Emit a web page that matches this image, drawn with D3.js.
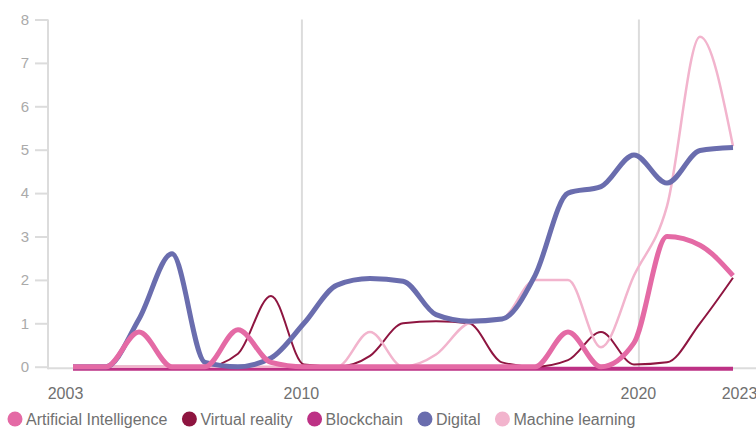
<!DOCTYPE html>
<html>
<head>
<meta charset="utf-8">
<script src="https://cdn.jsdelivr.net/npm/d3@7"></script>
<style>
  body { margin: 0; background: #fff; }
  svg { font-family: "Liberation Sans", Arial, sans-serif; }
</style>
</head>
<body>
<svg id="chart" width="756" height="429"></svg>
<script>
// Years and series values
var years = d3.range(2003, 2024);

var aiValues      = [0, 0, 0.8, 0, 0, 0.85, 0.1, 0, 0, 0, 0, 0, 0, 0, 0, 0.8, 0, 0.55, 3.0, 2.8, 2.1];
var vrValues      = [0, 0, 0, 0, 0, 0.3, 1.63, 0.05, 0, 0.25, 1.0, 1.05, 1.0, 0.1, 0, 0.15, 0.8, 0.05, 0.1, 1.0, 2.05];
var blockValues   = [0, 0, 0, 0, 0, 0, 0, 0, 0, 0, 0, 0, 0, 0, 0, 0, 0, 0, 0, 0, 0];
var digitalValues = [0, 0, 1.1, 2.6, 0.1, 0, 0.2, 1.0, 1.88, 2.03, 1.97, 1.2, 1.05, 1.1, 2.1, 4.0, 4.15, 4.88, 4.23, 4.98, 5.05];
var mlValues      = [0, 0, 0, 0, 0, 0, 0, 0, 0, 0.8, 0, 0.28, 1.0, 1.1, 2.0, 2.0, 0.45, 2.1, 3.7, 7.6, 5.08];

var seriesNames  = ["Artificial Intelligence", "Virtual reality", "Blockchain", "Digital", "Machine learning"];
var seriesColors = ["#e46aa5", "#8e1540", "#bd3185", "#6a6dae", "#f2b4cd"];

var yTicks = [0, 1, 2, 3, 4, 5, 6, 7, 8];
var xTickLabels = [2003, 2010, 2020, 2023];
var gridYears = [2010, 2020];

var svg = d3.select("#chart");

// scales
var xScale = d3.scaleLinear().domain([2003, 2023]).range([73, 733]);
var xAxisScale = d3.scaleLinear().domain([2003, 2023]).range([65, 739]);
var yScale = d3.scaleLinear().domain([0, 8]).range([366.7, 19.5]);

var axisColor = "#dcdcdc";

// vertical grid lines
svg.append("g")
  .selectAll("line")
  .data(gridYears)
  .enter().append("line")
  .attr("x1", d => xAxisScale(d) + 1)
  .attr("x2", d => xAxisScale(d) + 1)
  .attr("y1", yScale(8))
  .attr("y2", yScale(0) + 1.5)
  .attr("stroke", axisColor)
  .attr("stroke-width", 2);

// left axis
var leftAxis = d3.axisLeft(yScale)
  .tickValues(yTicks)
  .tickFormat(d3.format("d"))
  .tickSize(13)
  .tickPadding(6);

var yAxisG = svg.append("g")
  .attr("transform", "translate(48,0)")
  .call(leftAxis);

yAxisG.select(".domain")
  .attr("d", "M0," + yScale(8) + "V" + (yScale(0) + 2.5))
  .attr("stroke", axisColor)
  .attr("stroke-width", 2);
yAxisG.selectAll(".tick line")
  .attr("stroke", axisColor)
  .attr("stroke-width", 2);
yAxisG.selectAll(".tick text")
  .attr("fill", "#aaaaaa")
  .style("font-size", "15px")
  .style("font-family", "'Liberation Sans', Arial, sans-serif");

// bottom axis line
svg.append("line")
  .attr("x1", 48)
  .attr("x2", 756)
  .attr("y1", yScale(0) + 1.5)
  .attr("y2", yScale(0) + 1.5)
  .attr("stroke", axisColor)
  .attr("stroke-width", 2);

// bottom labels
var bottomAxis = d3.axisBottom(xAxisScale)
  .tickValues(xTickLabels)
  .tickFormat(d3.format("d"))
  .tickSize(0)
  .tickPadding(0);

var xAxisG = svg.append("g")
  .attr("transform", "translate(0," + (yScale(0) + 21) + ")")
  .call(bottomAxis);
xAxisG.select(".domain").remove();
xAxisG.selectAll(".tick text")
  .attr("fill", "#707070")
  .style("font-size", "16px")
  .style("font-family", "'Liberation Sans', Arial, sans-serif");

// lines
var drawLine = d3.line()
  .x((d, i) => xScale(years[i]))
  .y(d => yScale(d))
  .curve(d3.curveMonotoneX);

var lineGroup = svg.append("g").attr("fill", "none").attr("stroke-linecap", "butt");

// blockchain sits on the baseline, just below the others
lineGroup.append("path")
  .attr("d", drawLine(blockValues))
  .attr("transform", "translate(0,2)")
  .attr("stroke", seriesColors[2])
  .attr("stroke-width", 4);

lineGroup.append("path")
  .attr("d", drawLine(vrValues))
  .attr("stroke", seriesColors[1])
  .attr("stroke-width", 2);

lineGroup.append("path")
  .attr("d", drawLine(mlValues))
  .attr("stroke", seriesColors[4])
  .attr("stroke-width", 2.5);

lineGroup.append("path")
  .attr("d", drawLine(digitalValues))
  .attr("stroke", seriesColors[3])
  .attr("stroke-width", 5);

lineGroup.append("path")
  .attr("d", drawLine(aiValues))
  .attr("stroke", seriesColors[0])
  .attr("stroke-width", 5);

// legend
var legend = svg.append("g").attr("transform", "translate(0,419)");
var cursor = 15;
seriesNames.forEach(function(name, i) {
  legend.append("circle")
    .attr("cx", cursor)
    .attr("cy", 0)
    .attr("r", 7.5)
    .attr("fill", seriesColors[i]);
  var t = legend.append("text")
    .attr("x", cursor + 11)
    .attr("y", 6)
    .attr("fill", "#707070")
    .style("font-size", "16px")
    .text(name);
  cursor = cursor + 11 + t.node().getComputedTextLength() + 22;
});
</script>
</body>
</html>
